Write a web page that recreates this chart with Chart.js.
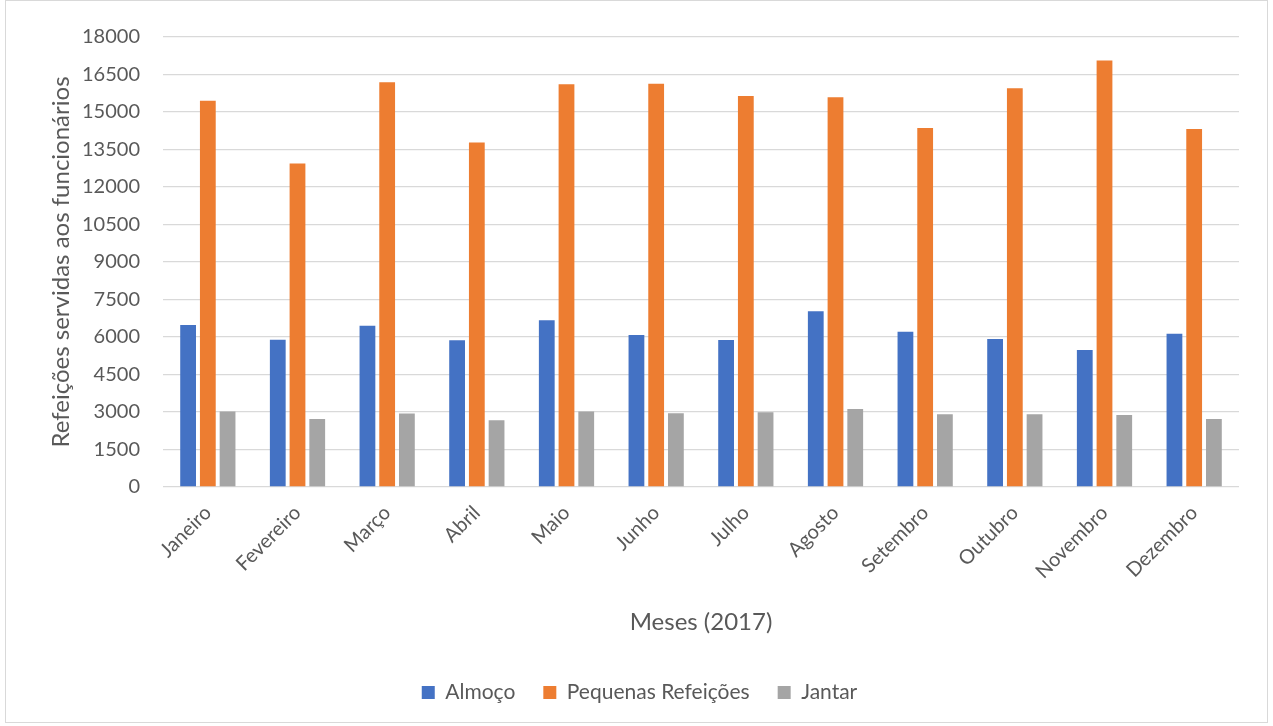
<!DOCTYPE html>
<html lang="pt">
<head>
<meta charset="utf-8">
<title>Refeições servidas aos funcionários - 2017</title>
<script src="https://cdn.jsdelivr.net/npm/chart.js@4/dist/chart.umd.min.js"></script>
<style>
  html, body { margin: 0; padding: 0; background: #ffffff; }
  #wrap { position: relative; width: 1273px; height: 726px; }
</style>
</head>
<body>
<div id="wrap"><canvas id="mealsChart" width="1273" height="726"></canvas></div>
<script>
// Months of 2017
const meses = ['Janeiro', 'Fevereiro', 'Março', 'Abril', 'Maio', 'Junho',
               'Julho', 'Agosto', 'Setembro', 'Outubro', 'Novembro', 'Dezembro'];

// Meals served per month
const almoco = [6480, 5895, 6455, 5870, 6670, 6080, 5880, 7030, 6215, 5920, 5480, 6135];
const pequenasRefeicoes = [15450, 12940, 16190, 13780, 16110, 16130, 15640, 15590, 14360, 15950, 17060, 14320];
const jantar = [3020, 2725, 2940, 2675, 3020, 2955, 2995, 3125, 2915, 2915, 2885, 2725];

// Y axis range
const yMin = 0;
const yMax = 18000;
const yStep = 1500;

const textColor = '#595959';
const gridColor = '#d9d9d9';
const fontFamily = 'Lato, "Open Sans", sans-serif';

// Light frame around the whole chart
const framePlugin = {
    id: 'frame',
    afterDraw(chart) {
        const c = chart.ctx;
        c.save();
        c.strokeStyle = '#d9d9d9';
        c.lineWidth = 1;
        c.strokeRect(5.5, 0.5, 1262, 722);
        c.restore();
    }
};

const ctx = document.getElementById('mealsChart').getContext('2d');

new Chart(ctx, {
    type: 'bar',
    data: {
        labels: meses,
        datasets: [
            { label: 'Almoço', data: almoco, backgroundColor: '#4472C4' },
            { label: 'Pequenas Refeições', data: pequenasRefeicoes, backgroundColor: '#ED7D31' },
            { label: 'Jantar', data: jantar, backgroundColor: '#A5A5A5' }
        ]
    },
    options: {
        responsive: false,
        animation: false,
        devicePixelRatio: 1,
        layout: {
            padding: { left: 40, right: 34, top: 37, bottom: 13 }
        },
        datasets: {
            bar: {
                categoryPercentage: 0.66,
                barPercentage: 0.8,
                borderWidth: 0
            }
        },
        plugins: {
            legend: {
                position: 'bottom',
                labels: {
                    color: textColor,
                    font: { family: fontFamily, size: 21 },
                    boxWidth: 13,
                    boxHeight: 13,
                    padding: 28
                }
            },
            tooltip: { enabled: false }
        },
        scales: {
            x: {
                grid: { display: false },
                border: { display: false },
                ticks: {
                    color: textColor,
                    font: { family: fontFamily, size: 20 },
                    maxRotation: 45,
                    minRotation: 45,
                    padding: 6
                },
                title: {
                    display: true,
                    text: 'Meses (2017)',
                    color: textColor,
                    font: { family: fontFamily, size: 24 },
                    padding: { top: 0, bottom: 17 }
                },
                afterFit(scale) {
                    scale.height = 167;
                }
            },
            y: {
                min: yMin,
                max: yMax,
                grid: {
                    color: gridColor,
                    lineWidth: 1.3,
                    drawTicks: false
                },
                border: { display: false },
                ticks: {
                    stepSize: yStep,
                    color: textColor,
                    font: { family: fontFamily, size: 20 },
                    padding: 23,
                    callback: (v) => String(v)
                },
                title: {
                    display: true,
                    text: 'Refeições servidas aos funcionários',
                    color: textColor,
                    font: { family: fontFamily, size: 24 },
                    padding: { top: 7, bottom: 0 }
                },
                afterFit(scale) {
                    scale.width = 123;
                }
            }
        }
    },
    plugins: [framePlugin]
});
</script>
</body>
</html>
